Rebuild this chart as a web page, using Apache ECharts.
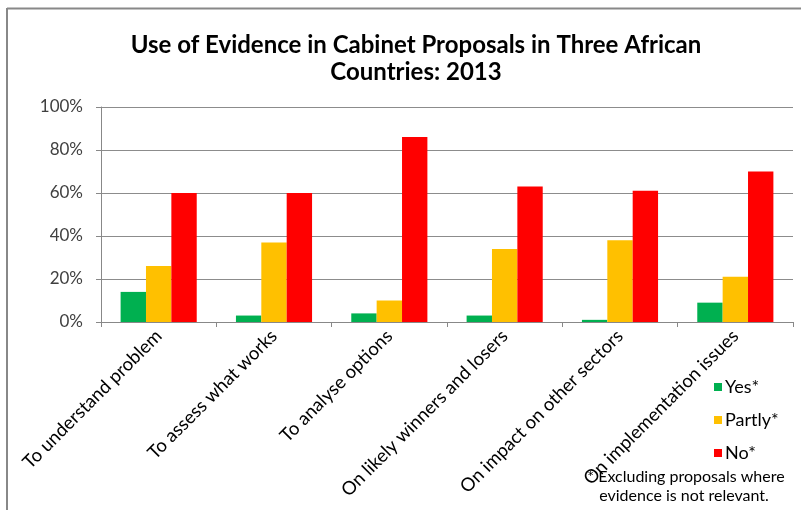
<!DOCTYPE html>
<html>
<head>
<meta charset="utf-8">
<script src="https://cdn.jsdelivr.net/npm/echarts@6/dist/echarts.min.js"></script>
<style>html,body{margin:0;padding:0;background:#fff;}#c{width:801px;height:510px;}</style>
</head>
<body>
<div id="c"></div>
<script>
const categories = ["To understand problem","To assess what works","To analyse options","On likely winners and losers","On impact on other sectors","On implementation issues"];
const yesValues = [14, 3, 4, 3, 1, 9];
const partlyValues = [26, 37, 10, 34, 38, 21];
const noValues = [60, 60, 86, 63, 61, 70];
const seriesNames = ["Yes*", "Partly*", "No*"];
const titleLines = ["Use of Evidence in Cabinet Proposals in Three African", "Countries: 2013"];
const footnote = ["* Excluding proposals where", "evidence is not relevant."];

const FONT = "Lato";
const chart = echarts.init(document.getElementById('c'), null, {renderer: 'canvas'});
chart.setOption({
  animation: false,
  backgroundColor: '#fff',
  textStyle: {fontFamily: FONT},
  title: {
    text: titleLines.join('\n'),
    left: 411, top: 27, textAlign: 'center',
    textStyle: {fontFamily: FONT, fontSize: 24, fontWeight: 'bold', color: '#000', lineHeight: 27}
  },
  grid: {left: 101, right: 8, top: 107, bottom: 188, containLabel: false},
  legend: {
    orient: 'vertical', left: 709, top: 373,
    itemWidth: 8, itemHeight: 8, itemGap: 15, icon: 'rect',
    textStyle: {fontFamily: FONT, fontSize: 18, color: '#000', padding: [0,0,0,-2]},
    data: seriesNames
  },
  xAxis: {
    type: 'category', data: categories,
    axisLine: {lineStyle: {color: '#888', width: 1}},
    axisTick: {show: true, length: 5, lineStyle: {color: '#888'}},
    axisLabel: {interval: 0, rotate: 45, margin: 11, fontFamily: FONT, fontSize: 18.5, color: '#000'}
  },
  yAxis: {
    type: 'value', min: 0, max: 100, interval: 20,
    axisLine: {show: true, lineStyle: {color: '#888', width: 1}},
    axisTick: {show: true, length: 5, lineStyle: {color: '#888'}},
    splitLine: {lineStyle: {color: '#8c8c8c', width: 1}},
    axisLabel: {formatter: '{value}%', margin: 18, fontFamily: FONT, fontSize: 17, color: '#404040'}
  },
  series: [
    {name: seriesNames[0], type: 'bar', data: yesValues, barGap: '0%', barCategoryGap: '34%', itemStyle: {color: '#00B050'}},
    {name: seriesNames[1], type: 'bar', data: partlyValues, barGap: '0%', barCategoryGap: '34%', itemStyle: {color: '#FFC000'}},
    {name: seriesNames[2], type: 'bar', data: noValues, barGap: '0%', barCategoryGap: '34%', itemStyle: {color: '#FF0000'}}
  ],
  graphic: [
    {type: 'line', shape: {x1: 7, y1: 8.5, x2: 801, y2: 8.5}, style: {stroke: '#888', lineWidth: 2}},
    {type: 'line', shape: {x1: 7, y1: 8, x2: 7, y2: 510}, style: {stroke: '#888', lineWidth: 2}},
    {type: 'text', x: 686, y: 469, style: {text: footnote[0], fontFamily: FONT, fontSize: 16, fill: '#000', align: 'center', verticalAlign: 'top'}},
    {type: 'text', x: 684, y: 488, style: {text: footnote[1], fontFamily: FONT, fontSize: 16, fill: '#000', align: 'center', verticalAlign: 'top'}}
  ]
});
</script>
</body>
</html>
